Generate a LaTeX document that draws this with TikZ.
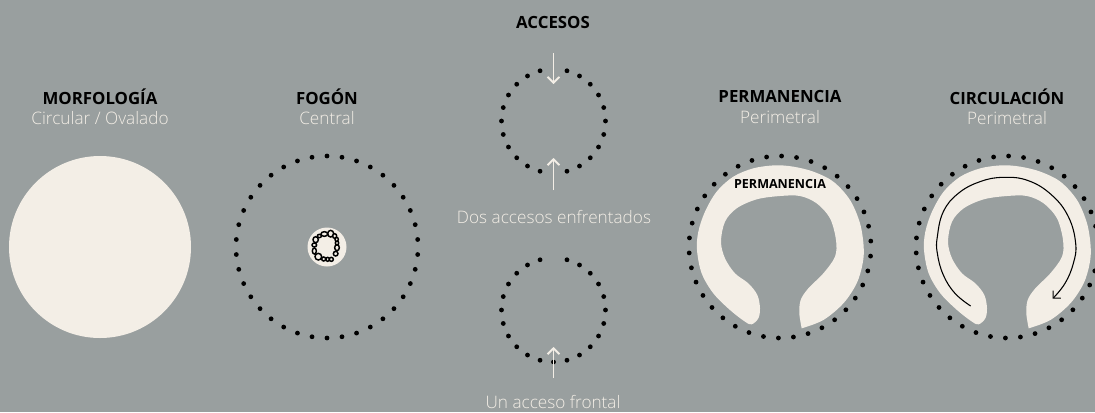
\documentclass[tikz,border=0pt]{standalone}
\usepackage{fontspec}
\setmainfont{Open Sans}
\newfontfamily\ligera{Open Sans Light}
\usepackage{xcolor}
\usetikzlibrary{arrows.meta}
\definecolor{fondo}{HTML}{999F9F}
\definecolor{crema}{HTML}{F3EEE6}
\tikzset{
	titulo/.style={font=\bfseries\fontsize{12.6}{14}\selectfont, text=black, inner sep=0pt},
	subtitulo/.style={font=\ligera\fontsize{12.9}{14}\selectfont, text=crema, inner sep=0pt},
	punto/.style={circle, fill=black, inner sep=0pt, minimum size=3.6pt},
	piedra/.style={draw=black, fill=crema, line width=1.1pt},
	acceso/.style={draw=crema, line width=1.4pt, -{Straight Barb[length=4.4pt,width=9pt]}},
	mancha/.style={fill=crema, draw=none}
}
\newcommand{\anillo}[5]{
	\foreach \a [count=\i] in {#5}
		\node[punto] (#1\i) at ([shift={(#2,#3)}]\a:#4) {};
}
\newcommand{\mancharing}{
	\fill[mancha] plot[smooth, tension=.55] coordinates {(365,565) (430,540) (490,490) (530,430) (548,370) (551,320) (540,250) (510,180) (460,125) (400,95) (340,80) (285,76) (220,85) (160,110) (110,155) (75,215) (55,275) (51,330) (65,400) (100,460) (150,510) (195,545) (215,553) (235,535) (240,505) (232,465) (205,430) (165,400) (135,355) (123,305) (135,245) (170,205) (230,178) (300,168) (360,168) (410,190) (450,235) (468,300) (465,350) (430,400) (385,445) (362,480) (358,520) (365,565)} -- cycle;
}

\begin{document}
\begin{tikzpicture}[x=.75pt, y=-.75pt, node distance=15.75pt]
	\useasboundingbox (0,0) rectangle (1095,412);
	\fill[fondo] (0,0) rectangle (1095,412);

	\node[titulo]    (morf)     at (100,97)  {MORFOLOGÍA};
	\node[subtitulo] (morfsub)  [below of = morf] {Circular / Ovalado};
	\node[titulo]    (fogon)    at (327,97)  {FOGÓN};
	\node[subtitulo] (fogonsub) [below of = fogon] {Central};
	\node[titulo]    (accesos)  at (553,22)  {ACCESOS};
	\node[subtitulo] (dos)      at (554,217) {Dos accesos enfrentados};
	\node[subtitulo] (uno)      at (553,402) {Un acceso frontal};
	\node[titulo]    (perm)     at (780,96)  {PERMANENCIA};
	\node[subtitulo] (permsub)  [below of = perm] {Perimetral};
	\node[titulo]    (circ)     at (1007,97) {CIRCULACIÓN};
	\node[subtitulo] (circsub)  [below of = circ] {Perimetral};

	\fill[crema] (100,247) circle (91);

	\anillo{f}{327}{247}{91}{90,99.4737,...,442}
	\fill[crema] (327,247) circle (19.5);
	\begin{scope}[shift={(225,145)}, x=.25pt, y=-.25pt]
		\foreach \sx/\sy/\rx/\ry in {317/266/9/10, 298/267/10/7, 283/273/6/5, 272/284/8/9, 268/300/7/6, 268/318/6/9, 280/335/10/10, 296/342/6/6, 308/343/5/6, 319/343/6/6, 332/326/7/7, 336/308/7/9, 336/294/5/6, 335/283/5/6, 329/273/6/7}
			\draw[piedra] (\sx,\sy) ellipse [x radius=\rx, y radius=\ry];
	\end{scope}

	\anillo{a}{553.5}{121}{52}{15,30,...,75,105,120,...,255,285,300,...,360}
	\anillo{b}{553.5}{310}{52}{15,30,...,255,285,300,...,360}
	\coordinate (a1) at (553.5,53);
	\coordinate (a2) at (553.5,84);
	\coordinate (a3) at (553.5,190);
	\coordinate (a4) at (553.5,158);
	\coordinate (b1) at (553.5,378);
	\coordinate (b2) at (553.5,347);
	\draw[acceso] (a1) -- (a2);
	\draw[acceso] (a3) -- (a4);
	\draw[acceso] (b1) -- (b2);

	\anillo{p}{780}{247}{91}{91,100.4737,...,443}
	\begin{scope}[shift={(680,140)}, x=.25pt, y=-.25pt]
		\mancharing
	\end{scope}
	\node[titulo, font=\bfseries\fontsize{9.4}{11}\selectfont] (permin) at (780,184) {PERMANENCIA};

	\anillo{c}{1007}{247}{91}{91,100.4737,...,443}
	\begin{scope}[shift={(907,140)}, x=.25pt, y=-.25pt]
		\mancharing
	\end{scope}
	\begin{scope}[shift={(905,140)}, x=.25pt, y=-.25pt]
		\coordinate (arcoa) at (197,498);
		\coordinate (arcob) at (443,476);
		\draw[black, line width=.8pt, -{Straight Barb[length=4pt,width=8pt]}] plot[smooth, tension=.7] coordinates {(arcoa) (150,460) (115,405) (97,340) (97,290) (115,215) (160,160) (225,125) (295,112) (370,122) (440,165) (490,230) (512,310) (505,370) (480,430) (arcob)};
	\end{scope}
\end{tikzpicture}
\end{document}
